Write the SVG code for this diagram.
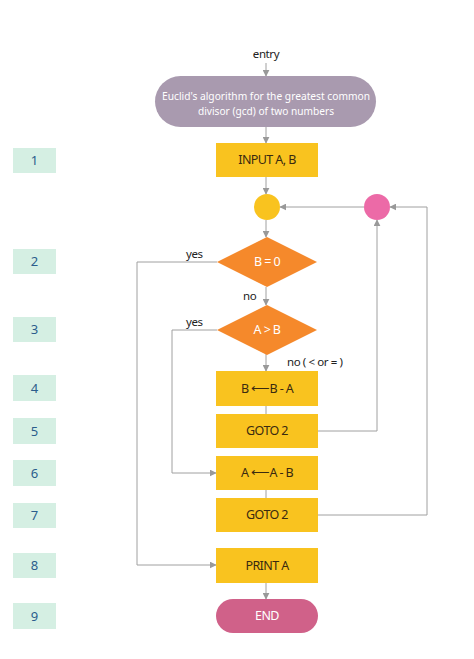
<svg xmlns="http://www.w3.org/2000/svg" width="474" height="659" viewBox="0 0 474 659">
<defs>
<marker id="ah" viewBox="0 0 10 10" refX="9" refY="5" markerWidth="7" markerHeight="7" orient="auto" markerUnits="userSpaceOnUse">
<path d="M0,0 L10,5 L0,10 z" fill="#999"/>
</marker>
</defs>
<style>
.num rect{fill:#d5efe3}
.num text{font-family:"Noto Sans","DejaVu Sans",sans-serif;font-size:13px;fill:#2b5d8c;text-anchor:middle}
.proc{fill:#f9c31f}
.dec{fill:#f5892b}
.t{font-family:"Noto Sans","Liberation Sans",sans-serif;font-size:12.5px;text-anchor:middle;letter-spacing:-0.6px}
.title{font-family:"Noto Sans","Liberation Sans",sans-serif;font-size:10.5px;text-anchor:middle;fill:#ffffff}
.dark{fill:#3a2a10}
.white{fill:#ffffff}
.lbl{font-family:"Noto Sans","Liberation Sans",sans-serif;font-size:11.5px;fill:#222;letter-spacing:-0.4px}
.c{fill:none;stroke:#a0a0a0;stroke-width:1}
.ca{fill:none;stroke:#a0a0a0;stroke-width:1;marker-end:url(#ah)}
</style>
<rect width="474" height="659" fill="#ffffff"/>

<g id="numbers" class="num">
<g id="n1"><rect x="13" y="148" width="43" height="25"/><text x="34.5" y="165">1</text></g>
<g id="n2"><rect x="13" y="249" width="43" height="25"/><text x="34.5" y="266">2</text></g>
<g id="n3"><rect x="13" y="317" width="43" height="25"/><text x="34.5" y="334">3</text></g>
<g id="n4"><rect x="13" y="375" width="43" height="26"/><text x="34.5" y="393">4</text></g>
<g id="n5"><rect x="13" y="418" width="43" height="26"/><text x="34.5" y="436">5</text></g>
<g id="n6"><rect x="13" y="460" width="43" height="26"/><text x="34.5" y="478">6</text></g>
<g id="n7"><rect x="13" y="503" width="43" height="25"/><text x="34.5" y="520">7</text></g>
<g id="n8"><rect x="13" y="553" width="43" height="25"/><text x="34.5" y="570">8</text></g>
<g id="n9"><rect x="13" y="603" width="43" height="26"/><text x="34.5" y="621">9</text></g>
</g>

<g id="connectors">
<path class="ca" d="M266,63 V76"/>
<path class="ca" d="M266,127 V143"/>
<path class="ca" d="M266,177 V194"/>
<path class="ca" d="M266,220 V237"/>
<path class="ca" d="M266,287 V305"/>
<path class="ca" d="M266,354 V371"/>
<path class="c" d="M266,406 V414"/>
<path class="c" d="M266,490 V498"/>
<path class="ca" d="M266,583 V599"/>
<path class="ca" d="M217,262 H137 V565 H216"/>
<path class="ca" d="M217,330 H172 V473 H216"/>
<path class="ca" d="M318,431 H377 V220"/>
<path class="ca" d="M318,515 H427 V207 H390"/>
<path class="ca" d="M364,207 H280"/>
<text class="lbl" x="186" y="258">yes</text>
<text class="lbl" x="186" y="326">yes</text>
<text class="lbl" x="243" y="300">no</text>
<text class="lbl" x="287" y="366">no ( &lt; or = )</text>
</g>

<g id="entry"><text class="lbl" x="266" y="58" text-anchor="middle">entry</text></g>

<g id="start">
<rect x="155" y="76" width="221" height="51" rx="25.5" fill="#a99aaf"/>
<text class="title" x="266" y="100" textLength="208" lengthAdjust="spacingAndGlyphs">Euclid's algorithm for the greatest common</text>
<text class="title" x="266" y="114.5" textLength="136" lengthAdjust="spacingAndGlyphs">divisor (gcd) of two numbers</text>
</g>

<g id="input"><rect class="proc" x="216" y="143" width="102" height="34"/><text class="t dark" x="267" y="164">INPUT A, B</text></g>

<g id="junction1"><circle cx="267" cy="207" r="13" fill="#f9c31f"/></g>
<g id="junction2"><circle cx="377" cy="207" r="13" fill="#ec6aa7"/></g>

<g id="dec1"><polygon class="dec" points="267,237 317,262 267,287 217,262"/><text class="t white" x="267" y="266">B = 0</text></g>
<g id="dec2"><polygon class="dec" points="267,305 317,330 267,355 217,330"/><text class="t white" x="267" y="334">A &gt; B</text></g>

<g id="step4"><rect class="proc" x="216" y="371" width="102" height="35"/><text class="t dark" x="267" y="393">B ⟵B - A</text></g>
<g id="step5"><rect class="proc" x="216" y="414" width="102" height="34"/><text class="t dark" x="267" y="435">GOTO 2</text></g>
<g id="step6"><rect class="proc" x="216" y="456" width="102" height="34"/><text class="t dark" x="267" y="477">A ⟵A - B</text></g>
<g id="step7"><rect class="proc" x="216" y="498" width="102" height="34"/><text class="t dark" x="267" y="519">GOTO 2</text></g>
<g id="step8"><rect class="proc" x="216" y="548" width="102" height="35"/><text class="t dark" x="267" y="570">PRINT A</text></g>
<g id="end"><rect x="216" y="599" width="102" height="34" rx="17" fill="#d06189"/><text class="t white" x="267" y="620">END</text></g>
</svg>
